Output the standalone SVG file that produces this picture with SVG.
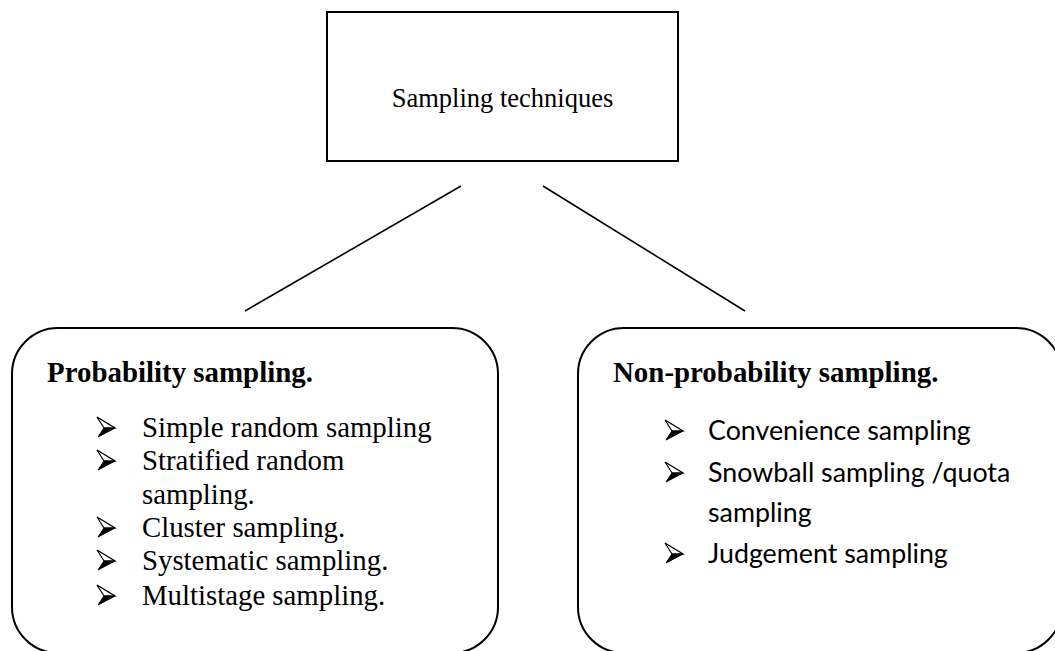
<svg xmlns="http://www.w3.org/2000/svg" xmlns:xlink="http://www.w3.org/1999/xlink" width="1055" height="651" viewBox="0 0 1055 651">
  <style>
    .box { fill: #ffffff; stroke: #000000; stroke-width: 2; }
    .link { stroke: #000000; stroke-width: 1.6; fill: none; }
    .serif { font-family: "Liberation Serif", "Times New Roman", serif; fill: #000000; }
    .sans { font-family: Lato, "Open Sans", "Liberation Sans", sans-serif; fill: #000000; }
    .title { font-size: 26.5px; }
    .head { font-size: 28.9px; font-weight: bold; }
    .item { font-size: 28.8px; }
    .item2 { font-size: 26.8px; }
  </style>
  <defs>
    <!-- list bullet: arrowhead, hollow upper half, solid lower half -->
    <g id="bullet">
      <path d="M0,-20 L18,-9 L7,-9 Z" fill="#ffffff" stroke="#000000" stroke-width="1.2" stroke-linejoin="miter"/>
      <path d="M7,-9 L18,-9 L1,0 Z" fill="#000000" stroke="#000000" stroke-width="1" stroke-linejoin="miter"/>
    </g>
  </defs>

  <rect width="1055" height="651" fill="#ffffff"/>

  <!-- connectors -->
  <g id="connectors">
    <line class="link" x1="461" y1="186" x2="245" y2="311"/>
    <line class="link" x1="543" y1="186" x2="745" y2="311"/>
  </g>

  <!-- root node -->
  <g id="node-root">
    <rect class="box" x="327" y="12" width="351" height="149"/>
    <text class="serif title" x="502.5" y="107" text-anchor="middle">Sampling techniques</text>
  </g>

  <!-- probability sampling -->
  <g id="node-probability">
    <rect class="box" x="12" y="328" width="486" height="325" rx="46" ry="46"/>
    <text class="serif head" x="47" y="382">Probability sampling.</text>
    <use xlink:href="#bullet" x="97" y="437"/>
    <text class="serif item" x="142" y="437">Simple random sampling</text>
    <use xlink:href="#bullet" x="97" y="470"/>
    <text class="serif item" x="142" y="470">Stratified random</text>
    <text class="serif item" x="142" y="504">sampling.</text>
    <use xlink:href="#bullet" x="97" y="537"/>
    <text class="serif item" x="142" y="537">Cluster sampling.</text>
    <use xlink:href="#bullet" x="97" y="570"/>
    <text class="serif item" x="142" y="570">Systematic sampling.</text>
    <use xlink:href="#bullet" x="97" y="605"/>
    <text class="serif item" x="142" y="605">Multistage sampling.</text>
  </g>

  <!-- non-probability sampling -->
  <g id="node-nonprobability">
    <rect class="box" x="578" y="328" width="484" height="325" rx="46" ry="46"/>
    <text class="serif head" x="613" y="382">Non-probability sampling.</text>
    <use xlink:href="#bullet" x="665" y="440"/>
    <text class="sans item2" x="708" y="440">Convenience sampling</text>
    <use xlink:href="#bullet" x="665" y="482"/>
    <text class="sans item2" x="708" y="482">Snowball sampling /quota</text>
    <text class="sans item2" x="708" y="522">sampling</text>
    <use xlink:href="#bullet" x="665" y="563"/>
    <text class="sans item2" x="708" y="563">Judgement sampling</text>
  </g>
</svg>
